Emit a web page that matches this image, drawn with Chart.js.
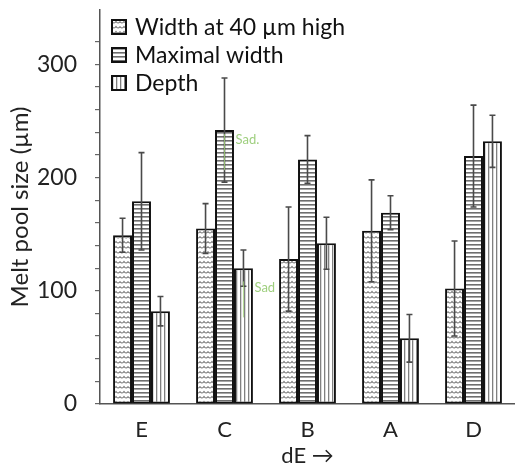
<!DOCTYPE html>
<html>
<head>
<meta charset="utf-8">
<script src="https://cdn.jsdelivr.net/npm/chart.js@4.4.0/dist/chart.umd.min.js"></script>
<style>
  html, body { margin: 0; padding: 0; background: #fff; overflow: hidden; }
  #wrap { width: 515px; height: 475px; }
</style>
</head>
<body>
<div id="wrap"><canvas id="chart" width="515" height="475"></canvas></div>
<script>
// values (µm)
const categories = ["E", "C", "B", "A", "D"];
const seriesNames = ["Width at 40 µm high", "Maximal width", "Depth"];
const widthAt40 = [149, 155, 128, 153, 102];
const widthAt40Err = [15, 22, 46, 45, 42];
const maxWidth = [179, 242, 216, 169, 219];
const maxWidthErr = [43, 46, 21, 15, 45];
const depth = [82, 120, 142, 58, 232];
const depthErr = [13, 16, 23, 21, 23];
const yMax = 348;
// leftover green labels in the original (dataset, category, value)
const notes = [
  { ds: 1, idx: 1, value: 233, text: "Sad." },
  { ds: 2, idx: 1, value: 103, text: "Sad" },
];

function makePattern(kind) {
  const c = document.createElement("canvas");
  const g = c.getContext("2d");
  if (kind === "wave") {
    c.width = 8; c.height = 5;
    g.fillStyle = "#fff"; g.fillRect(0, 0, 8, 5);
    g.strokeStyle = "#777"; g.lineWidth = 1.2;
    g.beginPath();
    g.moveTo(0, 1.5);
    g.quadraticCurveTo(2, 4.5, 4, 1.5);
    g.quadraticCurveTo(6, 4.5, 8, 1.5);
    g.stroke();
  } else if (kind === "hlines") {
    c.width = 4; c.height = 4;
    g.fillStyle = "#fff"; g.fillRect(0, 0, 4, 4);
    g.fillStyle = "#6e6e6e"; g.fillRect(0, 0, 4, 1.6);
  } else {
    c.width = 4; c.height = 4;
    g.fillStyle = "#fff"; g.fillRect(0, 0, 4, 4);
    g.fillStyle = "#808080"; g.fillRect(0, 0, 1.3, 4);
  }
  return g.createPattern(c, "repeat");
}

const patterns = [makePattern("wave"), makePattern("hlines"), makePattern("vlines")];
const errors = [widthAt40Err, maxWidthErr, depthErr];

Chart.defaults.font.family = "Lato, 'Open Sans', sans-serif";
Chart.defaults.color = "#222";

const errorBars = {
  id: "errorBars",
  afterDatasetsDraw(chart) {
    const ctx = chart.ctx;
    const y = chart.scales.y;
    ctx.save();
    ctx.strokeStyle = "#4a4a4a";
    ctx.lineWidth = 1.6;
    chart.data.datasets.forEach((ds, i) => {
      const meta = chart.getDatasetMeta(i);
      meta.data.forEach((bar, j) => {
        const v = ds.data[j], e = errors[i][j];
        const y1 = y.getPixelForValue(v + e), y2 = y.getPixelForValue(v - e);
        ctx.beginPath();
        ctx.moveTo(bar.x, y1); ctx.lineTo(bar.x, y2);
        ctx.moveTo(bar.x - 3, y1); ctx.lineTo(bar.x + 3, y1);
        ctx.moveTo(bar.x - 3, y2); ctx.lineTo(bar.x + 3, y2);
        ctx.stroke();
      });
    });
    // faint green remarks
    ctx.fillStyle = "#9fcf7f";
    ctx.strokeStyle = "rgba(160,210,120,0.8)";
    ctx.lineWidth = 1;
    ctx.font = "13px Lato, sans-serif";
    ctx.textBaseline = "middle";
    notes.forEach(n => {
      const bar = chart.getDatasetMeta(n.ds).data[n.idx];
      const py = y.getPixelForValue(n.value);
      ctx.beginPath();
      ctx.moveTo(bar.x, py - 6); ctx.lineTo(bar.x, py + 30);
      ctx.stroke();
      ctx.fillText(n.text, bar.x + 11, py);
    });
    ctx.restore();
  }
};

const innerLegend = {
  id: "innerLegend",
  afterDraw(chart) {
    const ctx = chart.ctx;
    const a = chart.chartArea;
    ctx.save();
    ctx.font = "23px Lato, sans-serif";
    ctx.textBaseline = "middle";
    seriesNames.forEach((name, i) => {
      const cy = a.top + 17 + i * 28;
      const bx = a.left + 12;
      ctx.fillStyle = patterns[i];
      ctx.fillRect(bx, cy - 7, 14, 14);
      ctx.strokeStyle = "#111";
      ctx.lineWidth = 2;
      ctx.strokeRect(bx, cy - 7, 14, 14);
      ctx.fillStyle = "#111";
      ctx.fillText(name, bx + 23, cy + 1);
    });
    ctx.restore();
  }
};

const seriesData = [widthAt40, maxWidth, depth];

new Chart(document.getElementById("chart"), {
  type: "bar",
  data: {
    labels: categories,
    datasets: seriesNames.map((name, i) => ({
      label: name,
      data: seriesData[i],
      backgroundColor: patterns[i],
      borderColor: "#111",
      borderWidth: 2,
      borderSkipped: false,
      categoryPercentage: 0.685,
      barPercentage: 1.0,
    })),
  },
  options: {
    responsive: false,
    animation: false,
    layout: { padding: { top: 10, right: 0, left: 6, bottom: 2 } },
    plugins: {
      legend: { display: false },
      tooltip: { enabled: false },
    },
    scales: {
      x: {
        grid: { display: true, drawOnChartArea: false, drawTicks: false },
        border: { display: true, color: "#555", width: 1.5 },
        ticks: { font: { size: 22 }, padding: 13, color: "#222" },
        title: { display: true, text: "dE →", font: { size: 22 }, padding: { top: 3 } },
        afterFit(scale) { scale.height = 69; },
      },
      y: {
        min: 0,
        max: yMax,
        afterBuildTicks(scale) {
          scale.ticks = scale.ticks.filter(t => t.value % 20 === 0);
        },
        ticks: {
          stepSize: 20,
          autoSkip: false,
          font: { size: 23 },
          padding: 18,
          color: "#222",
          callback: v => (v % 100 === 0 ? v : ""),
        },
        grid: { drawOnChartArea: false, drawTicks: true, tickLength: 5, color: "#666", lineWidth: 1.2 },
        border: { display: true, color: "#555", width: 1.5 },
        title: { display: true, text: "Melt pool size (µm)", font: { size: 24 }, padding: { top: 0, bottom: 0 } },
        afterFit(scale) { scale.width = 94; scale.paddingTop = 0; scale.paddingBottom = 0; },
      },
    },
  },
  plugins: [errorBars, innerLegend],
});
</script>
</body>
</html>
